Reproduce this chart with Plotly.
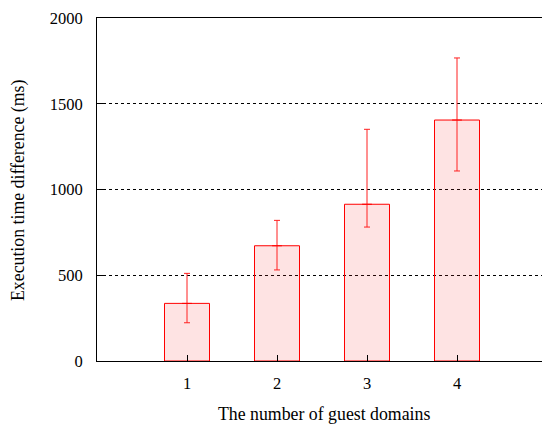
import plotly.graph_objects as go

domains = [1, 2, 3, 4]
mean_ms = [336, 672, 914, 1405]
err_plus = [175, 148, 437, 362]
err_minus = [113, 141, 133, 297]
y_ticks = [0, 500, 1000, 1500, 2000]
x_ticks = [1, 2, 3, 4]

font = "Liberation Serif"

fig = go.Figure()
fig.add_trace(go.Bar(
    x=domains, y=mean_ms, width=0.5,
    marker=dict(color="rgba(245,60,60,0.14)", line=dict(color="#ff0000", width=1)),
    showlegend=False, hoverinfo="skip",
))
fig.add_trace(go.Scatter(
    x=domains, y=mean_ms, mode="markers",
    marker=dict(symbol="line-ew", size=7, line=dict(color="#ff0000", width=1)),
    error_y=dict(type="data", array=err_plus, arrayminus=err_minus,
                 color="#ff2020", thickness=1, width=3, symmetric=False),
    showlegend=False, hoverinfo="skip",
))

W, H = 542, 425
L, R, T, B = 97, 0, 18, 64
tf = dict(family=font, size=16.5, color="black")
ttl = dict(family=font, size=17.8, color="black")
fig.update_layout(
    width=W, height=H,
    margin=dict(l=L, r=R, t=T, b=B),
    paper_bgcolor="white", plot_bgcolor="white",
    font=tf,
    xaxis=dict(range=[0, (W - L) / 90.0], tickvals=x_ticks, ticktext=[str(v) for v in x_ticks],
               tickfont=tf,
               showgrid=False, zeroline=False, showline=True, linecolor="black", linewidth=1,
               mirror=True, ticks="inside", ticklen=6, tickcolor="black", ticklabelstandoff=7),
    yaxis=dict(range=[0, 2000], tickvals=y_ticks, ticktext=[str(v) for v in y_ticks],
               tickfont=tf,
               showgrid=True, gridcolor="black", griddash="dot", gridwidth=1,
               zeroline=False, showline=True, linecolor="black", linewidth=1,
               mirror=True, ticks="inside", ticklen=6, tickcolor="black", ticklabelstandoff=10),
    annotations=[
        dict(text="The number of guest domains", xref="paper", yref="paper",
             x=(323.5 - L) / (W - L), y=-(414 - (H - B)) / (H - T - B),
             showarrow=False, font=ttl, xanchor="center", yanchor="middle"),
        dict(text="Execution time difference (ms)", xref="paper", yref="paper",
             x=-(L - 19) / (W - L), y=((H - B) - 191) / (H - T - B), textangle=-90,
             showarrow=False, font=ttl, xanchor="center", yanchor="middle"),
    ],
)
fig.write_html("out.html")
